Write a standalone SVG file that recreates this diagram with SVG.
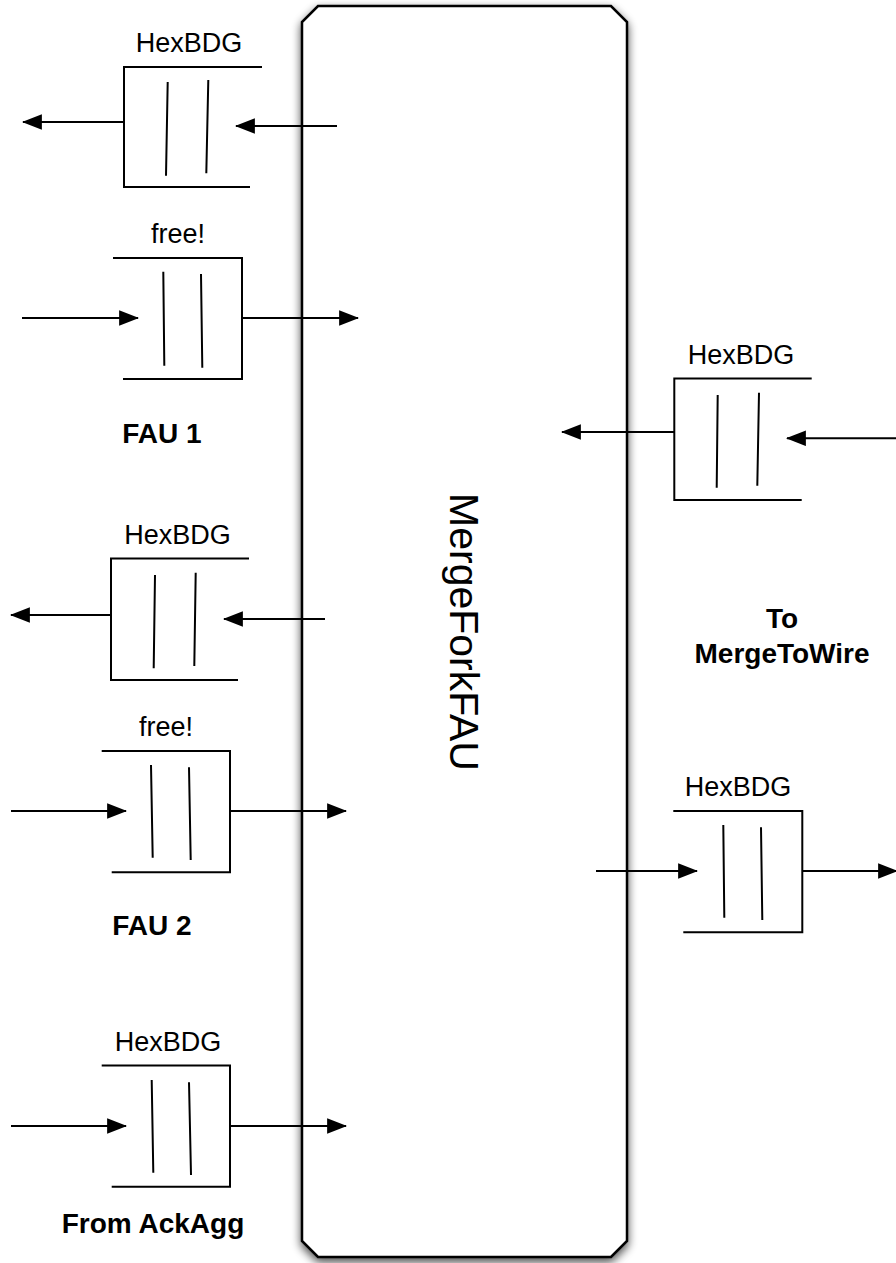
<svg xmlns="http://www.w3.org/2000/svg" width="896" height="1263" viewBox="0 0 896 1263">
<style>
.ln{fill:none;stroke:#000;stroke-width:2;stroke-linecap:butt}
.bx{fill:#fff;stroke:#000;stroke-width:2.5}
.t{font-family:"Liberation Sans",Arial,sans-serif;font-size:27px;fill:#000;text-anchor:middle}
.b{font-family:"Liberation Sans",Arial,sans-serif;font-size:28px;font-weight:bold;fill:#000;text-anchor:middle}
.ar{fill:none;stroke:#000;stroke-width:2;marker-end:url(#ah)}
</style>
<defs>
<marker id="ah" markerUnits="userSpaceOnUse" markerWidth="20" markerHeight="16" viewBox="0 0 18 14" refX="17" refY="7" orient="auto">
<path d="M0,0 L18,7 L0,14 Z" fill="#000"/>
</marker>
<filter id="sh" x="-10%" y="-5%" width="120%" height="110%">
<feGaussianBlur in="SourceAlpha" stdDeviation="5"/>
<feOffset dx="0" dy="4" result="o"/>
<feComponentTransfer><feFuncA type="linear" slope="0.7"/></feComponentTransfer>
<feMerge><feMergeNode/><feMergeNode in="SourceGraphic"/></feMerge>
</filter>
</defs>
<rect width="896" height="1263" fill="#fff"/>

<g id="mergeforkfau">
<path class="bx" filter="url(#sh)" d="M318,6 H611 L627,22 V1241 L611,1257 H318 L302,1241 V22 Z"/>
<text class="t" style="font-size:41px" transform="translate(450,632) rotate(90)">MergeForkFAU</text>
</g>

<g id="fau1-hexbdg">
<text class="t" x="189" y="52">HexBDG</text>
<path class="ln" d="M262,67 H124 V187 H250"/>
<path class="ln" d="M167.7,82 L166,175.7 M208.3,80 L206.3,173.3"/>
</g>

<g id="fau1-free">
<text class="t" x="178" y="243">free!</text>
<path class="ln" d="M113,258 H242 V379 H123"/>
<path class="ln" d="M163.3,271.7 L164.3,365.7 M201,274 L202.3,367.7"/>
</g>

<g id="fau2-hexbdg">
<text class="t" x="177.5" y="544">HexBDG</text>
<path class="ln" d="M249,558.5 H111 V680 H238"/>
<path class="ln" d="M155,575 L153.7,668.3 M195.7,572.7 L194.3,666"/>
</g>

<g id="fau2-free">
<text class="t" x="166" y="736">free!</text>
<path class="ln" d="M101.7,751 H230 V872.3 H111.7"/>
<path class="ln" d="M151,765 L152.7,857.7 M189,767.3 L190.7,860"/>
</g>

<g id="ackagg-hexbdg">
<text class="t" x="168" y="1051">HexBDG</text>
<path class="ln" d="M101.7,1065.5 H230 V1186.7 H111.7"/>
<path class="ln" d="M151.7,1080 L153.3,1172.7 M189,1082.3 L191,1175"/>
</g>

<g id="right-hexbdg-in">
<text class="t" x="741" y="364">HexBDG</text>
<path class="ln" d="M811.7,378.5 H674.3 V500 H801.7"/>
<path class="ln" d="M717.7,395 L716.7,487.7 M759,392.7 L757.3,485.7"/>
</g>

<g id="right-hexbdg-out">
<text class="t" x="738" y="796">HexBDG</text>
<path class="ln" d="M673.3,811 H802.3 V932.3 H683.3"/>
<path class="ln" d="M723.3,825 L724.3,917.7 M761,827.3 L762.3,920"/>
</g>

<g id="labels">
<text class="b" x="162" y="443">FAU 1</text>
<text class="b" x="152" y="935">FAU 2</text>
<text class="b" x="153" y="1233">From AckAgg</text>
<text class="b" x="782" y="628">To</text>
<text class="b" x="782" y="663">MergeToWire</text>
</g>

<g id="connectors">
<line class="ar" x1="124" y1="122" x2="23" y2="122"/>
<line class="ar" x1="337" y1="126" x2="236" y2="126"/>
<line class="ar" x1="22" y1="318" x2="138" y2="318"/>
<line class="ar" x1="242" y1="318" x2="358" y2="318"/>
<line class="ar" x1="111" y1="615" x2="11" y2="615"/>
<line class="ar" x1="325" y1="619" x2="224" y2="619"/>
<line class="ar" x1="11" y1="811" x2="126" y2="811"/>
<line class="ar" x1="230" y1="811" x2="346" y2="811"/>
<line class="ar" x1="11" y1="1126" x2="126" y2="1126"/>
<line class="ar" x1="230" y1="1126" x2="346" y2="1126"/>
<line class="ar" x1="674.3" y1="432" x2="562" y2="432"/>
<line class="ar" x1="896" y1="438.3" x2="787" y2="438.3"/>
<line class="ar" x1="596" y1="871" x2="697" y2="871"/>
<line class="ar" x1="802.3" y1="871" x2="897" y2="871"/>
</g>
</svg>
